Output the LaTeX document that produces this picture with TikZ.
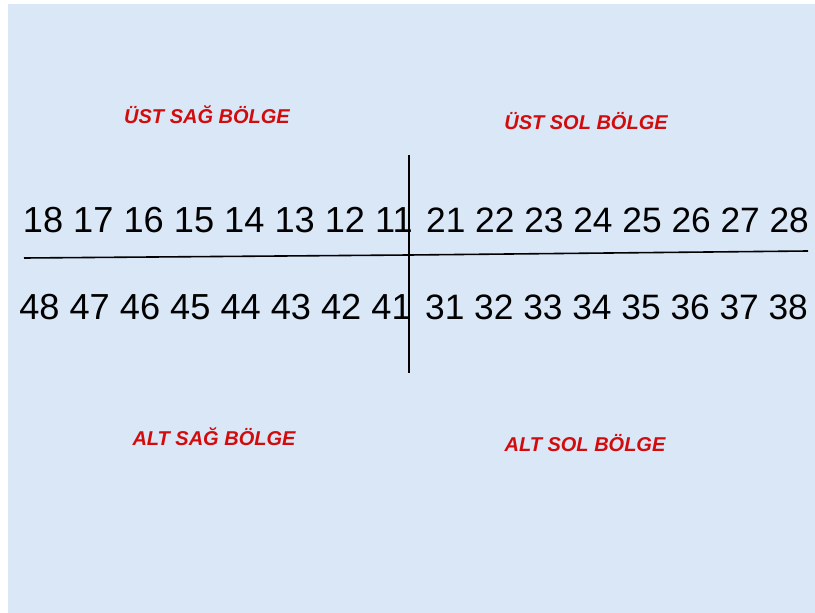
\documentclass[tikz,border=0pt]{standalone}
\usepackage{fontspec}
\setmainfont{Liberation Sans}
\definecolor{paper}{RGB}{217,231,246}
\definecolor{zonered}{RGB}{210,12,12}

\begin{document}
\begin{tikzpicture}[x=1pt, y=-1pt,
    tooth/.style={inner sep=0pt, font=\fontsize{35.3}{40}\selectfont},
    toothwide/.style={tooth, font=\fontsize{36.2}{40}\selectfont},
    zone/.style={inner sep=0pt, text=zonered, font=\fontsize{20}{24}\selectfont\bfseries\itshape}]
  \def\bw{815} \def\bh{613}
  \useasboundingbox (0,0) rectangle (\bw,\bh);
  \fill[white] (0,0) rectangle (\bw,\bh);
  \fill[paper] (8,4) rectangle (\bw,\bh);
  % region labels
  \node[zone] (ustsag) at (207,115) {ÜST SAĞ BÖLGE};
  \node[zone] (ustsol) at (586,121) {ÜST SOL BÖLGE};
  \node[zone] (altsag) at (214,437) {ALT SAĞ BÖLGE};
  \node[zone] (altsol) at (585,443) {ALT SOL BÖLGE};
  % tooth numbers
  \node[toothwide, anchor=base east] (ustsagno) at (413,232) {18 17 16 15 14 13 12 11};
  \node[tooth, anchor=base west] (ustsolno) at (426,232) {21 22 23 24 25 26 27 28};
  \node[toothwide, anchor=base east] (altsagno) at (412,319) {48 47 46 45 44 43 42 41};
  \node[tooth, anchor=base west] (altsolno) at (425,319) {31 32 33 34 35 36 37 38};
  % axes
  \coordinate (sol) at (24,258);
  \coordinate (orta) at (409,255);
  \coordinate (sag) at (808,251);
  \coordinate (ust) at (409,155);
  \coordinate (alt) at (409,373);
  \draw[black, line width=1.6pt] (sol) -- (orta) -- (sag);
  \draw[black, line width=1.6pt] (ust) -- (alt);
\end{tikzpicture}
\end{document}
